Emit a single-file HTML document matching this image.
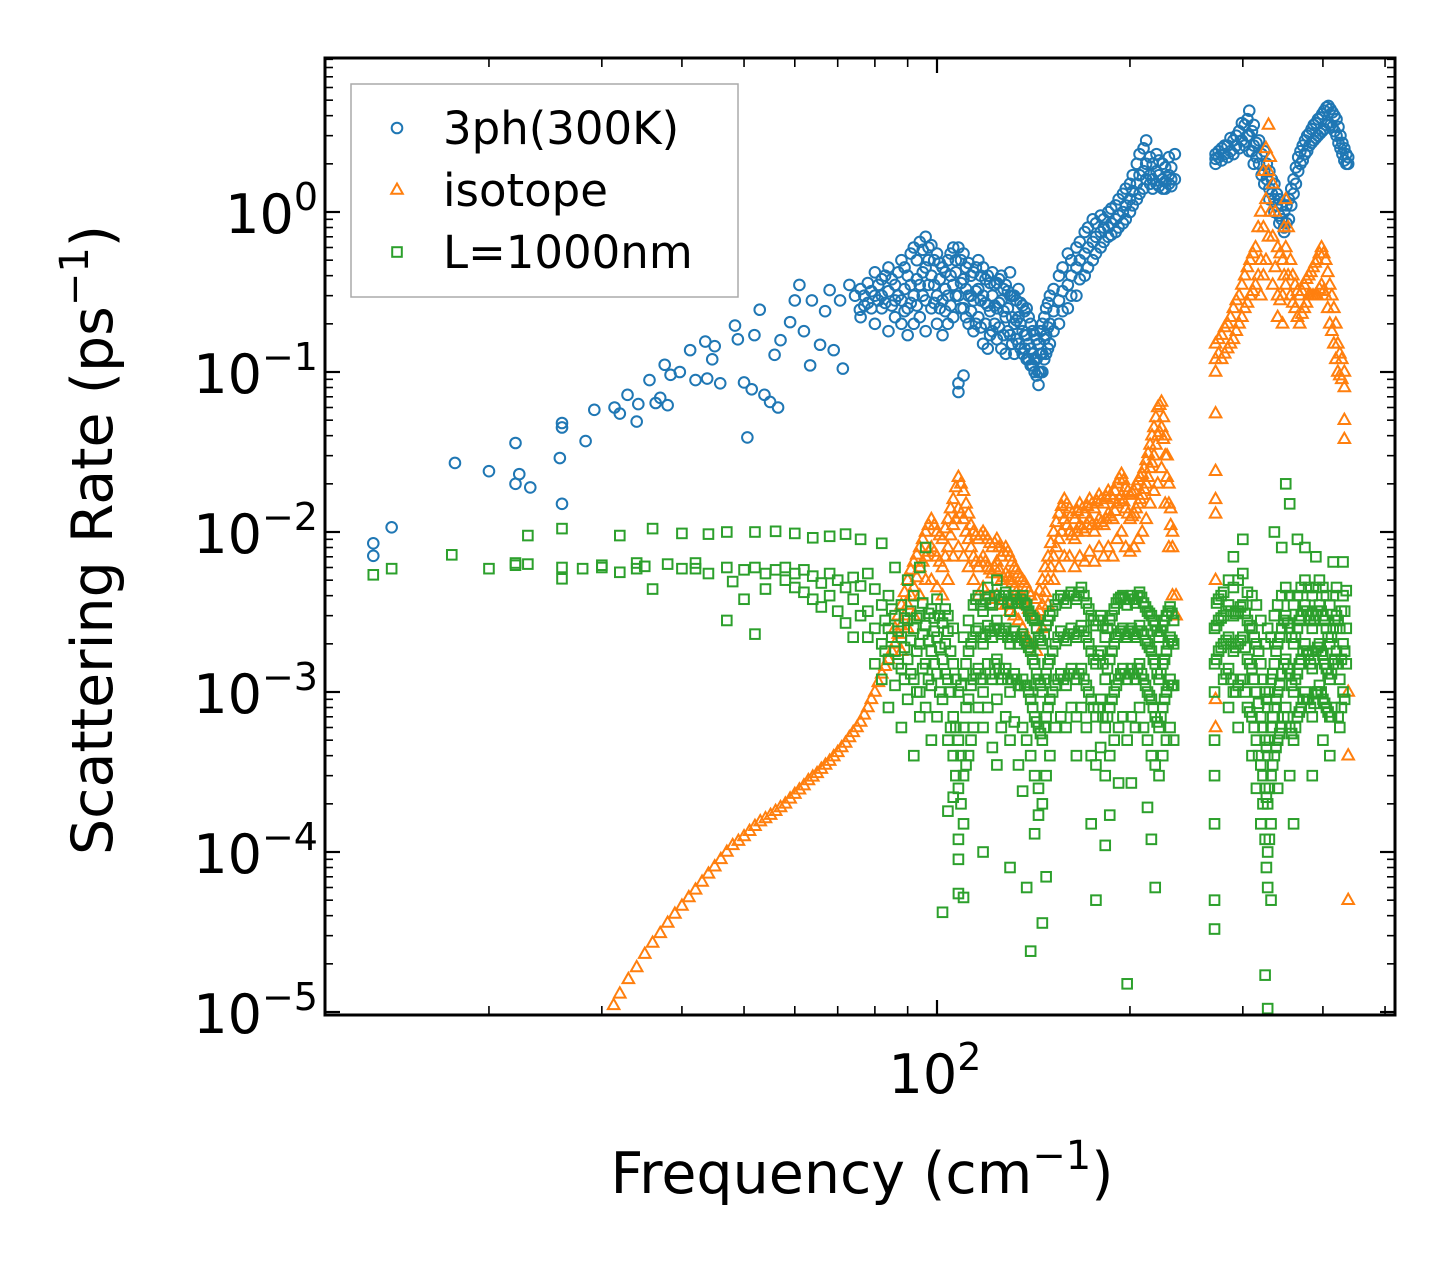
<!DOCTYPE html>
<html><head><meta charset="utf-8"><style>
html,body{margin:0;padding:0;background:#fff;}
svg{display:block;font-family:"DejaVu Sans","Liberation Sans",sans-serif;}
</style></head><body>
<svg id="chart" width="1455" height="1265" viewBox="0 0 1455 1265" xmlns="http://www.w3.org/2000/svg">
<rect x="0" y="0" width="1455" height="1265" fill="#fff"/>
<g id="marks"></g>
<g id="axes"></g>
</svg>
<script>
const xTickMajor = [100];
const xTickMajorLabels = ["10","2"];
const xTickMinor = [20,30,40,50,60,70,80,90,200,300,400,500];
const yTickMajor = [1,0.1,0.01,0.001,0.0001,0.00001];
const yTickExp = ["0","\u22121","\u22122","\u22123","\u22124","\u22125"];
const seriesNames = ["3ph(300K)","isotope","L=1000nm"];

const blueData = [
[13.2,0.0085,0.0071],[14.1,0.0107],[17.7,0.027],[20,0.024],[22,0.036,0.02],[22.3,0.023],[23.2,0.019],[25.8,0.029],[26,0.045,0.048,0.015],[28.3,0.037],[29.2,0.058],[31.4,0.06],[32,0.055],[32.9,0.072],[34,0.049],[34.2,0.063],[35.6,0.089],[36.4,0.064],[37,0.069],[37.6,0.111],[38,0.062],[38.4,0.096],[39.7,0.1],[41.2,0.137],[42,0.089],[43.5,0.155],[43.8,0.091],[44.6,0.12],[45,0.145],[45.9,0.085],[48.4,0.195],[48.9,0.16],[50,0.086],[50.6,0.039],[51.4,0.078],[51.9,0.17],[52.9,0.245],[53.8,0.072],[54.9,0.065],[56.5,0.06],[55.8,0.128],[57,0.158],[59,0.205],[60,0.28],[61,0.35],[62,0.18],[63.4,0.11],[63.8,0.28],[65.7,0.148],[66.9,0.24],[68,0.325],[69,0.137],[70.6,0.28],[71.3,0.105],[73,0.35],[74.5,0.3],[75.8,0.245],
[76,0.33,0.22],[77,0.3,0.26],[78,0.36,0.27],[79,0.32,0.25],[80,0.42,0.2,0.3],[81,0.35,0.28],[82,0.38,0.25,0.3],[83,0.4,0.27],[84,0.45,0.18,0.32],[85,0.38,0.26],[86,0.35,0.22,0.28],[87,0.42,0.3],[88,0.5,0.28,0.2],[89,0.45,0.33,0.24],[90,0.4,0.25,0.17],[91,0.55,0.35,0.27],[92,0.6,0.3,0.2],[93,0.5,0.38,0.26],[94,0.65,0.35,0.22],[95,0.58,0.42,0.3],[96,0.7,0.45,0.28,0.18],[97,0.6,0.5,0.35],[98,0.62,0.4,0.25],[99,0.5,0.35,0.27],[100,0.55,0.3,0.2],[101,0.48,0.38,0.25],[102,0.45,0.28,0.17],[103,0.42,0.33,0.24],[104,0.5,0.3,0.2],[105,0.55,0.4,0.26],[106,0.6,0.35,0.22],[107,0.5,0.42,0.3],[108,0.6,0.3,0.075,0.085],[109,0.5,0.36,0.25],[110,0.55,0.38,0.25,0.095],[111,0.45,0.33,0.22],[112,0.48,0.3,0.2],[113,0.4,0.3,0.24],[114,0.42,0.28,0.18],[115,0.45,0.32,0.2],[116,0.5,0.33,0.22],[117,0.4,0.28,0.19],[118,0.45,0.3,0.15],[119,0.38,0.27,0.2],[120,0.4,0.26,0.14],[121,0.36,0.24,0.17],[122,0.42,0.3,0.18],[123,0.35,0.26,0.2],[124,0.36,0.25,0.16],[125,0.38,0.27,0.19],[126,0.4,0.28,0.14],[127,0.33,0.24,0.17],[128,0.35,0.22,0.13],[129,0.32,0.25,0.18],[130,0.42,0.3,0.17],[131,0.3,0.22,0.15],[132,0.3,0.2,0.13],[133,0.28,0.21,0.16],[134,0.33,0.22,0.15],[135,0.27,0.2,0.14],[136,0.26,0.18,0.13],[137,0.24,0.17,0.14],[138,0.25,0.17,0.12],[139,0.22,0.15,0.12],[140,0.2,0.14,0.11],[141,0.18,0.13,0.11],[142,0.17,0.12,0.1],[143,0.16,0.12,0.095],[144,0.15,0.1,0.083],[145,0.18,0.13,0.1],[146,0.2,0.13,0.1],[147,0.22,0.16,0.12],[148,0.25,0.17,0.13],[149,0.27,0.19,0.14],[150,0.3,0.2,0.15],[152,0.33,0.24,0.18],[155,0.4,0.28,0.2],[157,0.45,0.32,0.24],[160,0.55,0.35,0.25],[162,0.5,0.4,0.3],[165,0.6,0.45,0.3],[167,0.65,0.5,0.38],[170,0.75,0.55,0.4],[172,0.8,0.6,0.45],[175,0.9,0.65,0.5],[177,0.85,0.7,0.55],[180,0.95,0.75,0.6],[182,0.9,0.8,0.65],[185,1.0,0.8,0.7],[187,1.05,0.85,0.72],[190,1.1,0.9,0.75],[192,1.2,0.95,0.8],[195,1.3,1.0,0.85],[197,1.4,1.1,0.9],[200,1.5,1.2,1.0],[202,1.7,1.35,1.1],[205,2.0,1.5,1.2],[207,2.3,1.7,1.3],[210,2.5,1.8,1.4],[212,2.8,2.0,1.6],[215,2.2,1.7,1.5],[217,2.0,1.6,1.4],[220,2.3,1.8,1.5],[222,2.1,1.7,1.45],[225,2.0,1.6,1.4],[227,1.9,1.55,1.4],[230,2.2,1.7,1.5],[232,1.9,1.6,1.45],[235,2.3,1.6],
[272,2.3,2.0,2.15],[275,2.2,2.4],[278,2.5,2.1],[281,2.3,2.6],[284,2.6,2.2],[287,2.4,2.9],[290,2.8,2.3],[293,2.6,3.0],[296,3.2,2.5],[299,2.8,3.6],[302,3.5,2.6],[305,3.0,3.8],[307,4.3,3.0,2.4],[310,3.2,2.4],[312,3.5,2.6,2.0],[315,2.7,2.2],[318,2.8,2.0],[321,2.3,1.7],[324,2.4,1.8,1.5],[327,2.0,1.6],[330,1.8,1.4,1.2],[333,1.6,1.3],[336,1.5,1.2,1.0],[339,1.3,1.1],[342,1.2,0.95,0.85],[345,1.1,0.9],[348,1.0,0.8,0.75],[351,1.1,0.85],[354,1.2,0.9],[357,1.4,1.1],[360,1.6,1.3],[363,1.9,1.5],[366,2.2,1.8],[369,2.4,2.0],[372,2.6,2.1],[375,2.8,2.3],[378,3.0,2.4],[381,3.1,2.6],[384,3.3,2.7],[387,3.5,2.8],[390,3.6,2.9],[393,3.8,3.0],[396,3.9,3.1],[399,4.1,3.2],[402,4.3,3.3],[405,4.5,3.5],[408,4.6,3.6],[411,4.4,3.5],[414,4.2,3.4],[417,4.0,3.2],[420,3.8,3.0],[423,3.4,2.7],[426,3.0,2.5],[429,2.7,2.3],[432,2.5,2.1],[435,2.3,2.0],[438,2.2,2.0]
];

const orangeData = [
[31.3,1.1e-5],[32,1.3e-5],[33,1.6e-5],[34,1.9e-5],[35,2.3e-5],[36,2.7e-5],[37,3.1e-5],[38,3.6e-5],[39,4.1e-5],[40,4.6e-5],[41,5.2e-5],[42,5.8e-5],[43,6.5e-5],[44,7.3e-5],[45,8.1e-5],[46,9e-5],[47,1.0e-4],[48,1.1e-4],[49,1.17e-4],[50,1.25e-4],[51,1.35e-4],[52,1.45e-4],[53,1.55e-4],[54,1.62e-4],[55,1.7e-4],[56,1.8e-4],[57,1.9e-4],[58,2.0e-4],[59,2.15e-4],[60,2.3e-4],[61,2.45e-4],[62,2.6e-4],[63,2.8e-4],[64,2.95e-4],[65,3.1e-4],[66,3.3e-4],[67,3.5e-4],[68,3.7e-4],[69,3.95e-4],[70,4.2e-4],[71,4.5e-4],[72,4.8e-4],[73,5.2e-4],[74,5.6e-4],[75,6e-4],[76,6.5e-4],[77,7.2e-4],[78,8e-4],[79,9e-4],[80,1.0e-3],[81,1.15e-3],[82,1.3e-3],[83,1.45e-3],[84,1.6e-3],[85,1.8e-3],
[86,2e-3,2.5e-3],[87,2.3e-3,3e-3],[88,2.6e-3,3.5e-3,1.8e-3],[89,3e-3,4.2e-3],[90,3.5e-3,5e-3,2.5e-3],[91,4e-3,5.8e-3],[92,4.5e-3,6.5e-3,3e-3],[93,5.2e-3,7.2e-3],[94,6e-3,8e-3,4e-3],[95,6.5e-3,9e-3],[96,7e-3,0.01,5e-3],[97,7.5e-3,0.011],[98,8e-3,0.012,5e-3],[99,7.5e-3,0.011],[100,7e-3,0.01,4.5e-3],[101,6.5e-3,0.0095],[102,6e-3,0.009,4e-3],[103,7e-3,0.0105],[104,8e-3,0.012,5e-3],[105,9.5e-3,0.014],[106,0.011,0.016,7e-3],[107,0.012,0.019],[108,0.014,0.022,8e-3],[109,0.013,0.02],[110,0.012,0.018,7e-3],[111,0.01,0.015],[112,0.009,0.013,6e-3],[113,8e-3,0.011],[114,7e-3,0.01,5e-3],[115,6.5e-3,0.0095],[116,6e-3,0.009,4e-3],[117,6.5e-3,0.0095],[118,7e-3,0.01,4.5e-3],[119,6.5e-3,0.0095],[120,6e-3,0.009,4e-3],[121,5.8e-3,0.0085],[122,5.5e-3,0.008,3.8e-3],[123,6e-3,0.0085],[124,6.5e-3,0.009,4e-3],[125,5.8e-3,0.008],[126,5e-3,0.007,3.5e-3],[127,5.2e-3,0.0075],[128,5.5e-3,0.008,3.5e-3],[129,5.2e-3,0.0075],[130,5e-3,0.007,3.2e-3],[131,4.8e-3,0.0065],[132,4.5e-3,0.006,3e-3],[133,4.2e-3,0.0058],[134,4e-3,0.0055,2.8e-3],[135,3.9e-3,0.0052],[136,3.8e-3,0.005,2.5e-3],[137,3.6e-3,0.0048],[138,3.5e-3,0.0045,2.2e-3],[139,3.3e-3,0.0042],[140,3.2e-3,0.004,2e-3],[143,3e-3,0.0038,1.8e-3],[144.5,3.2e-3,0.0043],[146,3.5e-3,0.005,2.5e-3],[147.5,4.2e-3,0.006],[149,5e-3,0.007,3.5e-3],[150.5,6e-3,0.0085],[152,7e-3,0.01,5e-3],[153.5,8e-3,0.0115],[155,9e-3,0.013,6e-3],[156.5,0.01,0.0145],[158,0.012,0.016,7e-3],[159.5,0.011,0.015],[161,0.01,0.014,7e-3],[162.5,0.0095,0.013],[164,9e-3,0.012,6e-3],[165.5,0.01,0.0135],[167,0.011,0.015,7e-3],[168.5,0.0105,0.014],[170,0.01,0.013,6.5e-3],[171.5,0.011,0.0145],[173,0.012,0.016,7.5e-3],[174.5,0.011,0.015],[176,0.01,0.014,6.5e-3],[177.5,0.011,0.0155],[179,0.012,0.017,8e-3],[180.5,0.0115,0.016],[182,0.011,0.015,7e-3],[183.5,0.012,0.0165],[185,0.013,0.018,8e-3],[186.5,0.0125,0.017],[188,0.012,0.016,7e-3],[189.5,0.0135,0.018],[191,0.015,0.02,9e-3],[192.5,0.016,0.0215],[194,0.017,0.023,0.01],[195.5,0.0155,0.021],[197,0.014,0.019,8e-3],[198.5,0.013,0.018],[200,0.012,0.017,7.5e-3],[201.5,0.0125,0.0175],[203,0.013,0.018,8e-3],[204.5,0.014,0.0195],[206,0.015,0.021,9e-3],[207.5,0.016,0.022],[209,0.017,0.023,0.01],[210.5,0.0185,0.025],[212,0.02,0.028,0.012],[213.5,0.022,0.031],[215,0.025,0.035,0.015],[216.5,0.027,0.04],[218,0.03,0.045,0.018],[219.5,0.035,0.052],[221,0.04,0.06,0.02],[222.5,0.042,0.062],[224,0.045,0.065,0.025],[225.5,0.038,0.052],[227,0.03,0.04,0.015],[228.5,0.022,0.03],[230,0.015,0.02,8e-3],[231.5,0.011,0.014],[233,8e-3,0.01,4e-3],[236,4e-3,3e-3],
[272,0.15,0.1,0.12,0.055,0.024,0.016,0.013,0.005,0.0009,0.0006],[275,0.13,0.16],[278,0.17,0.12],[281,0.19,0.13],[284,0.2,0.14],[287,0.22,0.15],[290,0.25,0.16],[293,0.28,0.18],[296,0.3,0.2],[299,0.35,0.22],[302,0.4,0.25],[305,0.45,0.27],[308,0.5,0.3],[311,0.55,0.32],[314,0.6,0.35],[317,0.8,0.4],[320,1.0,0.5,0.3],[323,1.8,0.8,0.4],[326,2.5,1.2,0.5],[329,3.5,1.8,0.7],[331,2.2,1.0],[334,1.5,0.7,0.35],[337,1.0,0.45],[340,0.6,0.3,0.22],[343,0.55,0.28],[346,0.5,0.3,0.2],[348,0.8,0.4],[350,1.2,0.6,0.35],[353,0.8,0.4],[356,0.5,0.3],[359,0.4,0.27],[362,0.35,0.25],[365,0.32,0.22],[368,0.3,0.2],[371,0.32,0.23],[374,0.35,0.25],[377,0.38,0.27],[380,0.4,0.3],[383,0.42,0.3],[386,0.45,0.3],[389,0.48,0.3],[392,0.5,0.3],[395,0.55,0.33],[398,0.6,0.35],[401,0.55,0.32],[404,0.5,0.3],[407,0.42,0.25],[410,0.35,0.2],[413,0.3,0.18],[416,0.25,0.15],[419,0.2,0.12],[422,0.15,0.1],[425,0.13,0.095],[428,0.12,0.09],[432,0.1,0.08,0.05,0.038],[438,0.001,4e-4,5e-5]
];

const greenData = [
[13.2,5.4e-3],[14.1,5.9e-3],[17.5,7.2e-3],[20,5.9e-3],[22,6.4e-3,6.2e-3],[23,6.3e-3,9.5e-3],[26,6e-3,5.1e-3,0.0105],[28,5.9e-3],[30,6.0e-3,6.2e-3],[32,5.6e-3,0.0095],[34,6.4e-3,5.9e-3],[35,6.1e-3],[36,0.0105,4.4e-3],[38,6.3e-3],[40,5.9e-3,0.0098],[42,5.9e-3,6.4e-3],[44,5.5e-3,0.0097],[47,2.8e-3,6e-3,0.01],[48,4.9e-3],[50,5.8e-3,3.8e-3],[52,6e-3,2.3e-3,0.01],[54,5.5e-3,4.4e-3],[56,5.8e-3,0.0101],[58,5e-3,6e-3],[60,4.5e-3,5.5e-3,0.0098],[62,4.2e-3,5.8e-3],[64,3.8e-3,5.3e-3,0.0092],[66,4.8e-3,3.4e-3],[68,5.5e-3,4e-3,0.0094],[70,3.2e-3,5e-3],[72,4.5e-3,2.7e-3,0.0097],[74,3.8e-3,5.2e-3,2.2e-3],[76,4.6e-3,3e-3,0.009],[78,3.2e-3,2.2e-3,5.5e-3],[80,2.5e-3,1.5e-3,4.4e-3],
[82,2.0e-3,1.2e-3,3.5e-3,0.0085],[83,2.8e-3,1.8e-3],[84,2.5e-3,1.6e-3,4e-3,8e-4],[85,2.2e-3,3.3e-3],[86,1.8e-3,3e-3,1.1e-3,6e-3],[87,2.4e-3,1.5e-3],[88,2.2e-3,1.4e-3,3.5e-3,6e-4],[89,1.9e-3,2.9e-3,1.2e-3],[90,1.6e-3,2.8e-3,9e-4,5e-3],[91,2.1e-3,1.3e-3,3.2e-3],[92,2.5e-3,1.2e-3,4e-3,4e-4],[93,1.8e-3,2.9e-3,1e-3],[94,2e-3,1e-3,3e-3,7e-4,6e-3],[95,2.3e-3,1.4e-3,3.6e-3],[96,2.6e-3,1.5e-3,8e-4,0.008],[97,2.1e-3,1.2e-3,3.1e-3],[98,1.8e-3,3.3e-3,1.1e-3,5e-4],[99,2.4e-3,1.5e-3,2.9e-3],[100,2.2e-3,1.3e-3,3.8e-3,7e-4],[101,1.9e-3,1e-3,3e-3],[102,1.6e-3,2.7e-3,9e-4,4.2e-5],[103,2e-3,1.3e-3,3.3e-3],[104,2.4e-3,1.2e-3,3e-3,5e-4,1.8e-4],[105,1.8e-3,1e-3,6e-4],[106,1.5e-3,7e-4,4e-4,2.2e-4,2.5e-3],[107,1.2e-3,6e-4,3e-4],[108,1e-3,5e-4,2.5e-4,1.2e-4,9e-5,5.5e-5],[109,1.1e-3,4e-4,2e-4],[110,1.3e-3,6e-4,3e-4,1.5e-4,5.2e-5,2.2e-3],[111,1.5e-3,8e-4,3.5e-4],[112,1.8e-3,9e-4,4e-4,2.8e-3],[113,2e-3,1.1e-3,5e-4],[114,2.2e-3,1.2e-3,6e-4,3.5e-3],[115,2.4e-3,1.3e-3,3.8e-3],[116,2.5e-3,1.4e-3,8e-4,4e-3],[117,2.2e-3,1.2e-3,3.5e-3],[118,2e-3,1e-3,6e-4,3.2e-3,1e-4],[119,2.3e-3,1.3e-3,3.8e-3],[120,2.6e-3,1.5e-3,8e-4,4.5e-3],[121,2.4e-3,1.3e-3,3.6e-3],[122,2.2e-3,1.2e-3,4.5e-4,3.5e-3],[123,2.5e-3,1.5e-3,4e-3],[124,2.8e-3,1.6e-3,9e-4,5e-3,3.5e-4],[125,2.5e-3,1.4e-3,4e-3],[126,2.3e-3,1.2e-3,6e-4,3.8e-3],[127,2.4e-3,1.3e-3,4e-3],[128,2.5e-3,1.4e-3,7e-4,4.2e-3],[129,2.2e-3,1.2e-3,3.6e-3],[130,2e-3,1e-3,5e-4,3.2e-3,8e-5],[131,2.2e-3,1.2e-3,3.6e-3],[132,2.4e-3,1.3e-3,6.5e-4,4e-3],[133,2.2e-3,1.2e-3,3.8e-3],[134,2e-3,1.1e-3,3.5e-4,3.6e-3],[135,2.2e-3,1.1e-3,3.8e-3],[136,2.3e-3,1.2e-3,6e-4,4e-3,2.4e-4],[137,2.1e-3,1.1e-3,3.6e-3],[138,2e-3,1.1e-3,5e-4,3.5e-3,6e-5],[139,1.9e-3,1e-3,3.2e-3],[140,1.8e-3,9e-4,4e-4,3e-3,2.4e-5],[141,1.6e-3,8e-4,2.9e-3],[142,1.5e-3,7e-4,3e-4,2.8e-3,1.3e-4],[143,1.3e-3,6.5e-4,2.5e-3],[144,1.2e-3,6e-4,2.5e-4,2.2e-3,1.7e-4],[145,1.1e-3,5.5e-4,2.1e-3],[146,1e-3,5e-4,2e-4,2e-3,3.6e-5],[147,1.2e-3,6e-4,2.3e-3],[148,1.3e-3,7e-4,3e-4,2.6e-3,7e-5],[149,1.5e-3,8e-4,2.8e-3],[150,1.6e-3,9e-4,4e-4,3e-3],[151.5,1.8e-3,1e-3,3.2e-3],[153,2e-3,1.1e-3,6e-4,3.5e-3],[154.5,2.2e-3,1.2e-3,3.8e-3],[156,2.4e-3,1.3e-3,7e-4,4e-3],[157.5,2.2e-3,1.2e-3,3.8e-3],[159,2.1e-3,1.1e-3,6e-4,3.6e-3],[160.5,2.3e-3,1.3e-3,4e-3],[162,2.5e-3,1.4e-3,8e-4,4.2e-3],[163.5,2.3e-3,1.3e-3,4e-3],[165,2.2e-3,1.2e-3,7e-4,3.8e-3,4e-4],[166.5,2.4e-3,1.3e-3,4.2e-3],[168,2.6e-3,1.4e-3,8e-4,4.5e-3],[169.5,2.4e-3,1.2e-3,4e-3],[171,2.2e-3,1.1e-3,6e-4,3.6e-3],[172.5,2e-3,1e-3,3.3e-3],[174,1.8e-3,9e-4,4e-4,3e-3,1.5e-4],[175.5,1.6e-3,8e-4,2.8e-3],[177,1.5e-3,7e-4,3.5e-4,2.6e-3,5e-5],[178.5,1.7e-3,8e-4,2.8e-3],[180,1.8e-3,9e-4,4.5e-4,3e-3],[181.5,1.5e-3,7e-4,2.6e-3],[183,1.2e-3,6e-4,3e-4,2.2e-3,1.1e-4],[184.5,1.4e-3,7e-4,2.5e-3],[186,1.6e-3,8e-4,4e-4,2.8e-3,1.7e-4],[187.5,1.8e-3,9e-4,3e-3],[189,2e-3,1e-3,5e-4,3.3e-3],[190.5,2.2e-3,1.1e-3,3.6e-3],[192,2.3e-3,1.2e-3,6e-4,3.8e-3,2.7e-4],[193.5,2.4e-3,1.3e-3,3.9e-3],[195,2.5e-3,1.4e-3,7e-4,4e-3],[196.5,2.3e-3,1.3e-3,3.8e-3],[198,2.2e-3,1.2e-3,5e-4,3.5e-3,1.5e-5],[199.5,2.4e-3,1.3e-3,3.8e-3],[201,2.5e-3,1.4e-3,7e-4,4e-3,2.7e-4],[202.5,2.3e-3,1.3e-3,3.8e-3],[204,2.2e-3,1.2e-3,6e-4,3.6e-3],[205.5,2.4e-3,1.4e-3,4e-3],[207,2.6e-3,1.5e-3,8e-4,4.2e-3],[208.5,2.4e-3,1.3e-3,3.9e-3],[210,2.3e-3,1.2e-3,6e-4,3.6e-3],[211.5,2.1e-3,1.1e-3,3.4e-3],[213,2e-3,1e-3,5e-4,3.2e-3,1.9e-4],[214.5,1.9e-3,9.5e-4,3.1e-3],[216,1.8e-3,9e-4,4e-4,3e-3,1.2e-4],[217.5,1.6e-3,8e-4,2.8e-3],[219,1.5e-3,7e-4,3.5e-4,2.6e-3,6e-5],[220.5,1.3e-3,6.5e-4,2.4e-3],[222,1.2e-3,6e-4,3e-4,2.2e-3],[223.5,1.3e-3,7e-4,2.4e-3],[225,1.5e-3,8e-4,4e-4,2.6e-3],[226.5,1.6e-3,9e-4,2.8e-3],[228,1.8e-3,1e-3,5e-4,3e-3],[229.5,2e-3,1.1e-3,3.2e-3],[231,2.2e-3,1.2e-3,6e-4,3.4e-3],[232.5,2.1e-3,1.1e-3,3.1e-3],[234,2e-3,1.1e-3,5e-4,2.8e-3],
[271,2.5e-3,1.5e-3,1e-3,5e-4,3e-4,1.5e-4,5e-5,3.3e-5],[273,2.6e-3,1.6e-3,3.6e-3],[275,2.8e-3,1.8e-3,3.8e-3],[277.5,2.9e-3,1.9e-3,4e-3],[280,3e-3,2e-3,1.2e-3,4.2e-3],[282.5,3.2e-3,2.1e-3,1.3e-3],[285,3.5e-3,2.2e-3,1.4e-3,5e-3,8e-4],[287.5,3.2e-3,2e-3,1.2e-3],[290,3e-3,1.8e-3,1e-3,4.5e-3,0.007],[292.5,3.1e-3,1.9e-3,1e-3],[295,3.2e-3,2e-3,1.1e-3,5e-3,6e-4],[297.5,3.4e-3,2.1e-3,1.2e-3],[300,3.5e-3,2.2e-3,1.2e-3,5.5e-3,9e-3],[302.5,3.1e-3,1.9e-3,1e-3],[305,2.8e-3,1.6e-3,8e-4,4.2e-3],[307.5,2.6e-3,1.5e-3,7.5e-4],[310,2.5e-3,1.4e-3,7e-4,4e-3,4e-4],[312.5,2.2e-3,1.2e-3,6e-4],[315,2e-3,1e-3,5e-4,3.5e-3,2.5e-4],[317.5,1.8e-3,8.5e-4,4e-4],[320,1.5e-3,7e-4,3.5e-4,2.8e-3,1.5e-4],[322.5,1.2e-3,6e-4,3e-4,2e-4],[325,1e-3,5e-4,2.5e-4,1.2e-4,2e-3,1.7e-5],[326.5,9e-4,4.5e-4,2.2e-4,8e-5],[328,8e-4,4e-4,2e-4,1e-4,6e-5,1.05e-5,2.5e-3],[330,1e-3,5e-4,2.5e-4,1.2e-4],[332,1.2e-3,6e-4,3e-4,1.5e-4,2.2e-3,5e-5],[334,1.3e-3,7e-4,3.5e-4],[336,1.5e-3,8e-4,4e-4,3e-3,0.01],[338,1.8e-3,9e-4,4.5e-4],[340,2e-3,1e-3,5e-4,3.5e-3,2.5e-4],[342.5,2.2e-3,1.1e-3,5.5e-4],[345,2.5e-3,1.3e-3,6e-4,4e-3,0.008],[347.5,2.8e-3,1.5e-3,7e-4],[350,3e-3,1.6e-3,8e-4,4.5e-3,0.02],[352.5,2.7e-3,1.4e-3,7e-4],[355,2.5e-3,1.3e-3,6e-4,4e-3,3e-4,0.015],[357.5,2.2e-3,1.1e-3,5.5e-4],[360,2e-3,1e-3,5e-4,3.5e-3,1.5e-4],[362.5,2.2e-3,1.2e-3,6e-4],[365,2.5e-3,1.3e-3,7e-4,4e-3,0.009],[367.5,2.8e-3,1.5e-3,7.5e-4],[370,3e-3,1.6e-3,8e-4,4.5e-3],[372.5,3.2e-3,1.8e-3,9e-4],[375,3.5e-3,2e-3,1e-3,5e-3,0.008],[377.5,3.2e-3,1.8e-3,9e-4],[380,3e-3,1.7e-3,9e-4,4.5e-3],[382.5,2.8e-3,1.5e-3,8e-4],[385,2.5e-3,1.4e-3,7e-4,4e-3,3e-4],[387.5,2.8e-3,1.6e-3,8.5e-4],[390,3e-3,1.8e-3,1e-3,4.5e-3,0.007],[392.5,3.2e-3,1.9e-3,1e-3],[395,3.5e-3,2e-3,1.1e-3,5e-3],[397.5,3.2e-3,1.8e-3,1e-3],[400,3e-3,1.7e-3,9e-4,4.5e-3,5e-4],[402.5,2.8e-3,1.5e-3,8.5e-4],[405,2.5e-3,1.4e-3,8e-4,4e-3],[407.5,2.2e-3,1.3e-3,7.5e-4],[410,2e-3,1.2e-3,7e-4,3.5e-3,4e-4],[412.5,2.2e-3,1.3e-3,7e-4],[415,2.5e-3,1.5e-3,4e-3,0.0065],[417.5,2.8e-3,1.6e-3,8e-4],[420,3e-3,1.8e-3,4.5e-3],[422.5,2.8e-3,1.5e-3,7e-4],[425,2.5e-3,1.2e-3,6e-4],[427.5,3.2e-3,1.6e-3,8e-4],[430,4e-3,2e-3,1e-3,6.5e-3],[432.5,3.2e-3,1.8e-3,9e-4],[435,2.5e-3,1.5e-3,4.3e-3]
];

// axis geometry
const PL=325, PR=1395, PT=58, PB=1015;
const X0=937, XPD=641;
const Y0=212, YPD=160;
function xs(f){return X0+XPD*(Math.log10(f)-2);}
function ys(v){return Y0-YPD*Math.log10(v);}
const NS="http://www.w3.org/2000/svg";
function mk(tag,attrs,parent){const e=document.createElementNS(NS,tag);for(const k in attrs)e.setAttribute(k,attrs[k]);parent.appendChild(e);return e;}

const marks=document.getElementById('marks');
const clip=mk('clipPath',{id:'pc'},marks);
mk('rect',{x:PL,y:PT,width:PR-PL,height:PB-PT},clip);
const gB=mk('g',{'clip-path':'url(#pc)'},marks);


const gO=mk('g',{'clip-path':'url(#pc)'},marks);


const gG=mk('g',{'clip-path':'url(#pc)'},marks);



function circ(g,x,y){return mk('circle',{cx:x,cy:y,r:5.3,fill:'none',stroke:'#1f77b4','stroke-width':2},g);}
function tri(g,x,y){return mk('path',{d:`M${x},${y-6.5}L${x+5.8},${y+3.8}L${x-5.8},${y+3.8}Z`,fill:'none',stroke:'#ff7f0e','stroke-width':2},g);}
function sq(g,x,y){return mk('rect',{x:x-4.8,y:y-4.8,width:9.6,height:9.6,fill:'none',stroke:'#2ca02c','stroke-width':2},g);}

function drawSeries(data,g,fn,name){
  data.forEach(row=>{const x=xs(row[0]);for(let i=1;i<row.length;i++){const e=fn(g,x,ys(row[i]));
    
    }});
}
drawSeries(blueData,gB,circ,'point-3ph');
drawSeries(orangeData,gO,tri,'point-isotope');
drawSeries(greenData,gG,sq,'point-boundary');

// axes
const ax=document.getElementById('axes');
const frame=mk('rect',{x:PL,y:PT,width:PR-PL,height:PB-PT,fill:'none',stroke:'#000','stroke-width':3},ax);


xTickMajor.forEach(f=>{const x=xs(f);
  mk('line',{x1:x,y1:PB,x2:x,y2:PB-15,stroke:'#000','stroke-width':2.2},ax);
  mk('line',{x1:x,y1:PT,x2:x,y2:PT+15,stroke:'#000','stroke-width':2.2},ax);
  const t=mk('text',{x:x-2,y:1093,'font-size':54,'text-anchor':'middle'},ax);
  
  
  t.textContent=xTickMajorLabels[0];
  const s=mk('tspan',{dy:-23,'font-size':38},t);s.textContent=xTickMajorLabels[1];
});
xTickMinor.forEach(f=>{const x=xs(f);
  mk('line',{x1:x,y1:PB,x2:x,y2:PB-9,stroke:'#000','stroke-width':1.6},ax);
  mk('line',{x1:x,y1:PT,x2:x,y2:PT+9,stroke:'#000','stroke-width':1.6},ax);
});
yTickMajor.forEach((v,i)=>{const y=ys(v);
  mk('line',{x1:PL,y1:y,x2:PL+15,y2:y,stroke:'#000','stroke-width':2.2},ax);
  mk('line',{x1:PR,y1:y,x2:PR-15,y2:y,stroke:'#000','stroke-width':2.2},ax);
  const t=mk('text',{x:318,y:y+21,'font-size':54,'text-anchor':'end'},ax);
  
  
  t.textContent='10';
  const s=mk('tspan',{dy:-23,'font-size':38},t);s.textContent=yTickExp[i];
  if(i<yTickMajor.length-1){for(let m=2;m<=9;m++){const yy=ys(v*0.1*m);
    mk('line',{x1:PL,y1:yy,x2:PL+8,y2:yy,stroke:'#000','stroke-width':1.6},ax);
    mk('line',{x1:PR,y1:yy,x2:PR-8,y2:yy,stroke:'#000','stroke-width':1.6},ax);}}
  if(i==0){for(let m=2;m<=9;m++){const yy=ys(m);if(yy>PT){
    mk('line',{x1:PL,y1:yy,x2:PL+8,y2:yy,stroke:'#000','stroke-width':1.6},ax);
    mk('line',{x1:PR,y1:yy,x2:PR-8,y2:yy,stroke:'#000','stroke-width':1.6},ax);}}}
});
const xl=mk('text',{x:862,y:1193,'font-size':57,'text-anchor':'middle'},ax);


xl.innerHTML='Frequency (cm<tspan dy="-24" font-size="40">\u22121</tspan><tspan dy="24">)</tspan>';
const yl=mk('text',{x:0,y:0,'font-size':57,'text-anchor':'middle',transform:'translate(112,540) rotate(-90)'},ax);


yl.innerHTML='Scattering Rate (ps<tspan dy="-24" font-size="40">\u22121</tspan><tspan dy="24">)</tspan>';

// legend
const lg=mk('g',{},ax);


mk('rect',{x:351,y:84,width:387,height:213,fill:'#fff',stroke:'#aaa','stroke-width':1.5},lg);
const lfn=[circ,tri,sq];
seriesNames.forEach((n,i)=>{const y=128+i*62;
  const m=lfn[i](lg,397,y);
  
  
  const t=mk('text',{x:443,y:y+16,'font-size':45},lg);
  
  
  t.textContent=n;
});
</script>
</body></html>
